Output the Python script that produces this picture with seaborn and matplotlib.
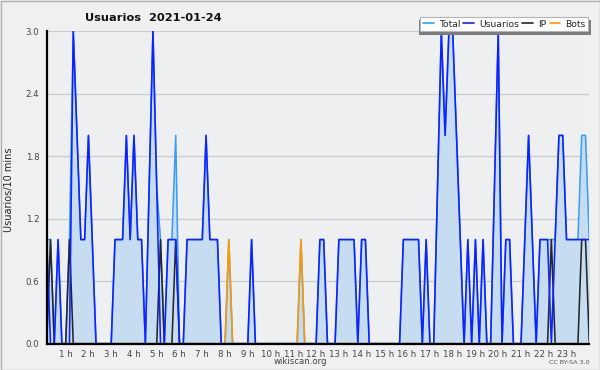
import numpy as np
import pandas as pd
import matplotlib
matplotlib.use("Agg")
import matplotlib.pyplot as plt
import matplotlib.transforms as mtransforms
from matplotlib.patches import Rectangle
from matplotlib.lines import Line2D
from matplotlib.ticker import MultipleLocator
import seaborn as sns

# ---- data (10-minute intervals, 2021-01-24) ----
usuarios = [1, 0, 0, 1, 0, 0, 0, 3, 2, 1, 1, 2, 1, 0, 0, 0, 0, 0, 1, 1, 1, 2, 1, 2,
            1, 1, 0, 1.5, 3, 1.5, 0, 0, 1, 1, 1, 0, 0, 1, 1, 1, 1, 1, 2, 1, 1, 1, 0, 0,
            0, 0, 0, 0, 0, 0, 1, 0, 0, 0, 0, 0, 0, 0, 0, 0, 0, 0, 0, 0, 0, 0, 0, 0,
            1, 1, 0, 0, 0, 1, 1, 1, 1, 1, 0, 1, 1, 0, 0, 0, 0, 0, 0, 0, 0, 0, 1, 1,
            1, 1, 1, 0, 1, 0, 0, 1.5, 3, 2, 3, 3, 2, 1, 0, 1, 0, 1, 0, 1, 0, 0, 1.5, 3,
            0, 1, 1, 0, 0, 0, 1, 2, 1, 0, 1, 1, 1, 0, 1, 2, 2, 1, 1, 1, 1, 1, 1, 1]
ip = [0] * 144
for k in [1, 6, 30, 34, 133, 141, 142]:
    ip[k] = 1
bots = [0] * 144
for k in [48, 67]:
    bots[k] = 1

hour_labels = [f"{h} h" for h in range(1, 24)]
y_ticks = [0.0, 0.6, 1.2, 1.8, 2.4, 3.0]
series_names = ["Total", "Usuarios", "IP", "Bots"]
title = "Usuarios  2021-01-24"

# ---- frame ----
hours = np.arange(len(usuarios)) / 6.0
total = np.array(usuarios, dtype=float) + np.array(ip) + np.array(bots)
df = pd.DataFrame({"h": hours, "Total": total, "Usuarios": usuarios,
                   "IP": ip, "Bots": bots})

sns.set_theme(style="white")
plt.rcParams["font.family"] = ["DejaVu Sans"]

W, H = 600, 370
fig = plt.figure(figsize=(W / 100, H / 100), dpi=100, facecolor="#f0f0f0")
L, R, T, B = 46.7, 589.3, 31.3, 343.7
ax = fig.add_axes([L / W, 1 - B / H, (R - L) / W, (B - T) / H])
ax.set_facecolor("#eeeff1")

colors = {"Total": "#3d9df2", "Usuarios": "#1020ff", "IP": "#262626", "Bots": "#ff9900"}

ax.fill_between(df["h"], 0, df["Total"], color="#c6dcf0", lw=0, zorder=1)
for col in ["Total", "IP", "Bots", "Usuarios"]:
    sns.lineplot(data=df, x="h", y=col, color=colors[col], lw=1.15, ax=ax,
                 legend=False, zorder=2)

ax.set_xlim(0, hours[-1])
ax.set_ylim(0, 3.0)
ax.set_yticks(y_ticks)
ax.set_yticklabels([f"{v:.1f}" for v in y_ticks])
ax.yaxis.set_minor_locator(MultipleLocator(0.15))
ax.set_xticks(range(1, 24))
ax.set_xticklabels(hour_labels)
ax.xaxis.set_minor_locator(MultipleLocator(1 / 6))
ax.set_xlabel("")
ax.set_ylabel("")
ax.grid(axis="y", which="major", color="#cccccc", lw=0.9)
ax.grid(axis="x", visible=False)
ax.set_axisbelow(True)

for s in ["top", "right"]:
    ax.spines[s].set_visible(False)
for s in ["left", "bottom"]:
    ax.spines[s].set_color("black")
    ax.spines[s].set_linewidth(1.6)
    ax.spines[s].set_zorder(5)

ax.tick_params(axis="both", which="both", direction="out", length=3.2, width=0.8,
               color="black", labelsize=6.2, labelcolor="#444444", pad=1.2)
ax.tick_params(axis="y", which="major", length=4)

off = mtransforms.ScaledTranslation(-4 / 100, 0, fig.dpi_scale_trans)
for lbl in ax.get_xticklabels():
    lbl.set_transform(lbl.get_transform() + off)

# ---- texts ----
fig.text(85 / W, 1 - 21 / H, title, ha="left", va="baseline",
         fontsize=8.2, fontweight="bold", color="#111111")
fig.text(9 / W, 1 - 190 / H, "Usuarios/10 mins", rotation=90, ha="center",
         va="center", fontsize=7, color="#222222")
fig.text(300 / W, 1 - 362 / H, "wikiscan.org", ha="center", va="center",
         fontsize=6.2, color="#444444")
fig.text(590 / W, 1 - 362 / H, "CC BY-SA 3.0", ha="right", va="center",
         fontsize=4.6, color="#555555")

# ---- legend with shadow ----
fig.patches.append(Rectangle((419.3 / W, 1 - 35.0 / H), (590.7 - 419.3) / W,
                             (35.0 - 20) / H, transform=fig.transFigure,
                             facecolor="#7a7a7a", edgecolor="none", zorder=4))
handles = [Line2D([0], [0], color=colors[n], lw=1.2) for n in series_names]
leg = fig.legend(handles, series_names, loc="upper right",
                 bbox_to_anchor=(588.3 / W, 1 - 17.3 / H), ncol=4, fontsize=6.7,
                 frameon=True, fancybox=False, edgecolor="#b5b5b5",
                 facecolor="white", framealpha=1, handlelength=1.15,
                 handletextpad=0.55, columnspacing=0.35, borderpad=0.25,
                 borderaxespad=0)
leg.set_zorder(6)
leg.get_frame().set_linewidth(0.8)

fig.patches.append(Rectangle((0.5 / W, 0.5 / H), (W - 1) / W, (H - 1) / H,
                             transform=fig.transFigure, fill=False,
                             edgecolor="#b0b0b0", lw=1, zorder=10))

fig.savefig("out.png", dpi=100, facecolor=fig.get_facecolor())
